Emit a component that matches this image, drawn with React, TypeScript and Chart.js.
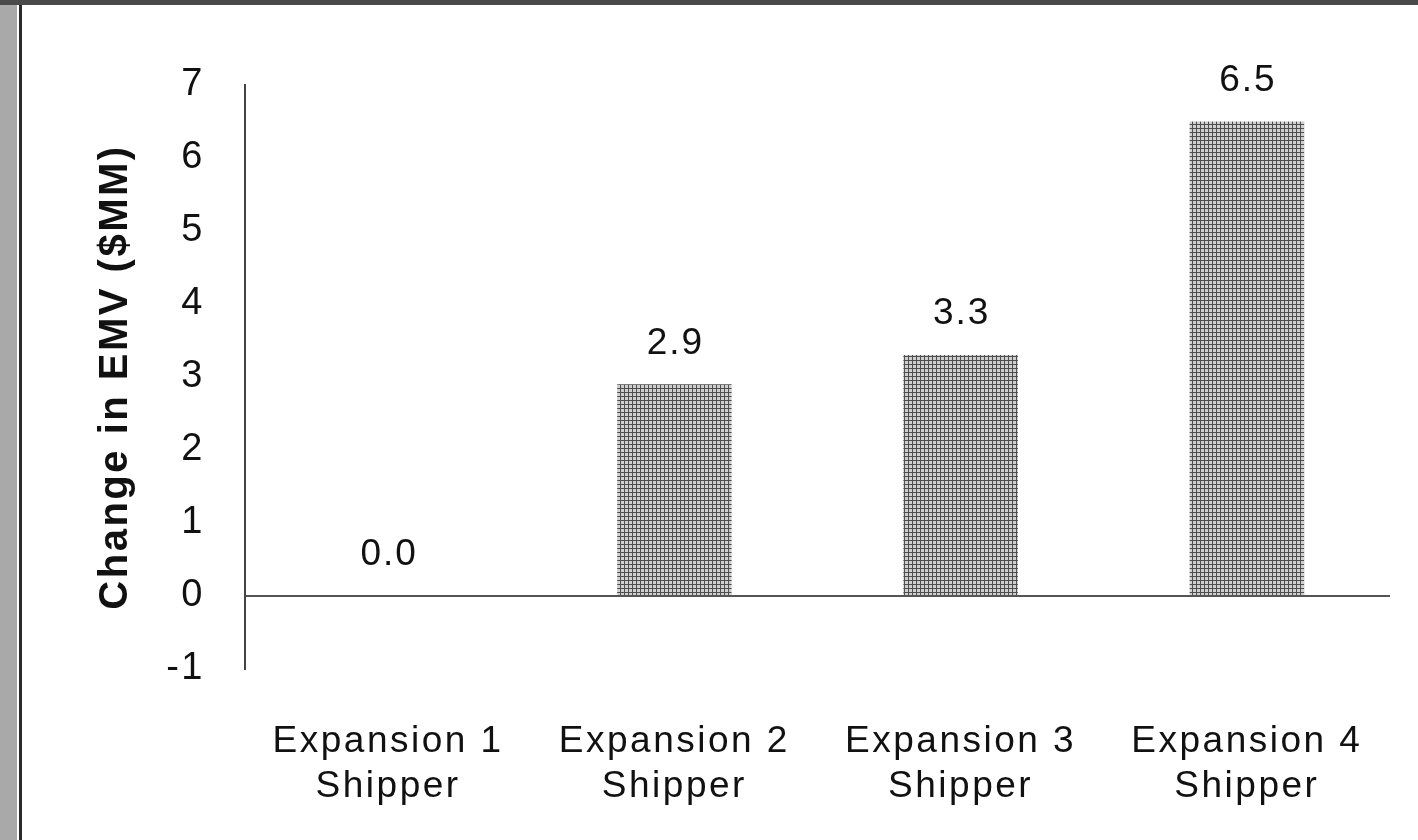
import React, { useEffect, useRef } from "react";
import { Chart, registerables } from "chart.js";

Chart.register(...registerables);

const categories: string[][] = [
  ["Expansion 1", "Shipper"],
  ["Expansion 2", "Shipper"],
  ["Expansion 3", "Shipper"],
  ["Expansion 4", "Shipper"],
];
const emvChange: number[] = [0.0, 2.9, 3.3, 6.5];
const yMin = -1;
const yMax = 7;
const yTitle = "Change in EMV ($MM)";

const FONT = "'Liberation Sans', Arial, Helvetica, sans-serif";

function makePattern(): CanvasPattern | string {
  const c = document.createElement("canvas");
  c.width = 4;
  c.height = 4;
  const g = c.getContext("2d");
  if (!g) return "#999";
  g.fillStyle = "#cfcfcf";
  g.fillRect(0, 0, 4, 4);
  g.fillStyle = "#4e4e4e";
  g.fillRect(0, 0, 1, 4);
  g.fillRect(0, 0, 4, 1);
  const p = g.createPattern(c, "repeat");
  return p || "#999";
}

const spacingPlugin = {
  id: "spacing",
  beforeUpdate(chart: any) {
    try { chart.ctx.letterSpacing = "2.5px"; } catch (e) {}
  },
  beforeDraw(chart: any) {
    try { chart.ctx.letterSpacing = "2.5px"; } catch (e) {}
  },
};

const valueLabels = {
  id: "valueLabels",
  afterDatasetsDraw(chart: any) {
    const ctx = chart.ctx;
    const meta = chart.getDatasetMeta(0);
    ctx.save();
    try { ctx.letterSpacing = "2px"; } catch (e) {}
    ctx.font = `37px ${FONT}`;
    ctx.fillStyle = "#111";
    ctx.textAlign = "center";
    ctx.textBaseline = "middle";
    meta.data.forEach((bar: any, i: number) => {
      const v = chart.data.datasets[0].data[i] as number;
      ctx.fillText(v.toFixed(1), bar.x + 1, bar.y - 41);
    });
    ctx.restore();
  },
};

export default function App() {
  const ref = useRef<HTMLCanvasElement | null>(null);
  useEffect(() => {
    if (!ref.current) return;
    const chart = new Chart(ref.current, {
      type: "bar",
      data: {
        labels: categories,
        datasets: [
          {
            data: emvChange,
            backgroundColor: makePattern() as any,
            borderWidth: 0,
            barPercentage: 0.4,
            categoryPercentage: 1,
          },
        ],
      },
      options: {
        animation: false,
        responsive: false,
        events: [],
        layout: { padding: { left: 20, right: 28, top: 85, bottom: 0 } },
        plugins: { legend: { display: false }, tooltip: { enabled: false } },
        scales: {
          x: {
            grid: { display: false, drawTicks: false },
            border: { display: false },
            ticks: {
              color: "#111",
              font: { family: FONT, size: 37, lineHeight: 1.22 },
              padding: 50,
              maxRotation: 0,
              autoSkip: false,
            },
            afterFit(scale: any) {
              scale.height = 171;
            },
          },
          y: {
            min: yMin,
            max: yMax,
            grid: {
              drawTicks: false,
              color: (c: any) => (c.tick && c.tick.value === 0 ? "#555" : "rgba(0,0,0,0)"),
              lineWidth: 2,
            },
            border: { display: true, color: "#444", width: 2 },
            ticks: {
              stepSize: 1,
              color: "#111",
              font: { family: FONT, size: 38 },
              padding: 40,
            },
            title: {
              display: true,
              text: yTitle,
              color: "#111",
              font: { family: FONT, size: 40, weight: "bold" },
              padding: { top: 72, bottom: 0 },
            },
            afterFit(scale: any) {
              scale.width = 225;
            },
          },
        },
      },
      plugins: [spacingPlugin, valueLabels],
    });
    return () => chart.destroy();
  }, []);

  return (
    <div style={{ position: "absolute", left: 0, top: 0, width: 1418, height: 840, background: "#fff", overflow: "hidden" }}>
      <canvas ref={ref} width={1418} height={840} style={{ position: "absolute", left: 0, top: 0 }} />
      <div style={{ position: "absolute", left: 0, top: 0, width: 17, height: 840, background: "#a9a9a9" }} />
      <div style={{ position: "absolute", left: 19, top: 0, width: 3, height: 840, background: "#2a2a2a" }} />
      <div style={{ position: "absolute", left: 0, top: 0, width: 1418, height: 5, background: "#4a4a4a" }} />
    </div>
  );
}
